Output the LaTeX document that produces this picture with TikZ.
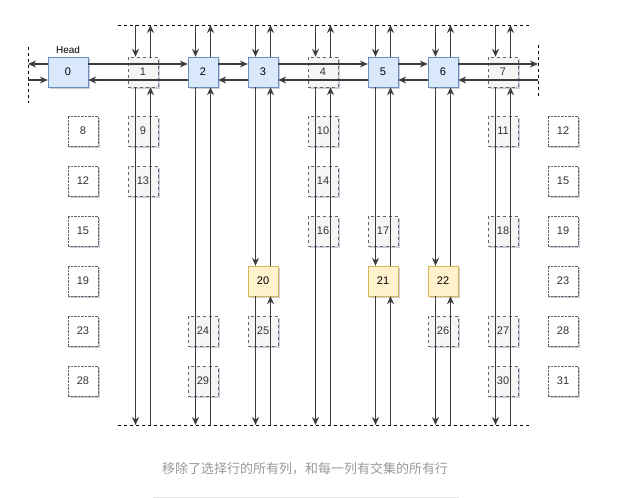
\documentclass[tikz,border=0pt]{standalone}
\usepackage{fontspec}
\setmainfont{Liberation Sans}
\newfontfamily\cjk{Noto Sans CJK SC}
\usepackage{tikz}
\usetikzlibrary{positioning}
\usetikzlibrary{arrows.meta,shadows}
\pgfdeclarelayer{nodelayer}
\pgfdeclarelayer{edgelayer}
\pgfsetlayers{nodelayer,edgelayer,main}
\definecolor{headfill}{HTML}{DAE8FC}
\definecolor{headline}{HTML}{6C8EBF}
\definecolor{pickfill}{HTML}{FFF2CC}
\definecolor{pickline}{HTML}{D6B656}
\definecolor{gonefill}{HTML}{F5F5F5}
\definecolor{goneline}{HTML}{666666}
\definecolor{gonetext}{HTML}{333333}
\definecolor{linkgray}{HTML}{3C3C3C}
\definecolor{captiongray}{HTML}{999999}
\tikzset{
  cell/.style={draw, minimum width=30pt, minimum height=30pt, inner sep=0pt,
    font=\fontsize{11}{13}\selectfont,
    drop shadow={shadow xshift=2pt, shadow yshift=-2pt, opacity=0.2, fill=black!70!blue}},
  live/.style={cell, fill=headfill, draw=headline},
  picked/.style={cell, fill=pickfill, draw=pickline},
  gone/.style={cell, dashed, fill=gonefill, draw=goneline, text=gonetext},
  rowlabel/.style={cell, densely dotted, fill=white, draw=goneline, text=gonetext},
  link/.style={draw=linkgray, line width=1.1pt, -{Stealth[length=8pt,width=7pt]}},
  border/.style={draw=black, line width=0.8pt, dash pattern=on 3pt off 3pt},
}

\begin{document}
\begin{tikzpicture}[x=1pt, y=-1pt]
  \useasboundingbox (0,0) rectangle (635,498);
  \begin{pgfonlayer}{nodelayer}
    \node [live, minimum width=40pt] (0) at (68, 72) {0};
    \node [font=\fontsize{10}{12}\selectfont, above=0pt of 0] (headlabel) {Head};
    \foreach \n/\x in {1/143, 4/323, 7/503}
      \node [gone] (\n) at (\x, 72) {\n};
    \foreach \n/\x in {2/203, 3/263, 5/383, 6/443}
      \node [live] (\n) at (\x, 72) {\n};
    % removed rows
    \foreach \n/\x/\y in {9/143/131, 13/143/181, 24/203/331, 29/203/381,
        25/263/331, 10/323/131, 14/323/181, 16/323/231, 17/383/231,
        26/443/331, 11/503/131, 18/503/231, 27/503/331, 30/503/381}
      \node [gone] (\n) at (\x, \y) {\n};
    % selected row
    \foreach \n/\x in {20/263, 21/383, 22/443}
      \node [picked] (\n) at (\x, 281) {\n};
    \foreach \n/\y in {8/131, 12/181, 15/231, 19/281, 23/331, 28/381}
      \node [rowlabel] (L\n) at (83, \y) {\n};
    \foreach \n/\y in {12/131, 15/181, 19/231, 23/281, 28/331, 31/381}
      \node [rowlabel] (R\n) at (563, \y) {\n};
    \node [text=captiongray, font=\cjk\fontsize{13}{15}\selectfont] (caption) at (305, 469)
      {移除了选择行的所有列，和每一列有交集的所有行};
  \end{pgfonlayer}
  \begin{pgfonlayer}{edgelayer}
    \coordinate (lb) at (28, 72);
    \coordinate (rb) at (538, 72);
    \coordinate (tl) at (118, 25);
    \coordinate (tr) at (530, 25);
    \coordinate (bl) at (118, 425);
    \coordinate (br) at (530, 425);
    \draw [border] (tl) -- (tr);
    \draw [border] (bl) -- (br);
    \draw [border] (28, 47) -- (28, 103);
    \draw [border] (538, 45) -- (538, 97);
    \draw [gray!20] (153, 497) -- (459, 497);
    % row of headers
    \foreach \a/\b in {0/2, 2/3, 3/5, 5/6} {
      \draw [link] ([yshift=8pt]\a.east) -- ([yshift=8pt]\b.west);
      \draw [link] ([yshift=-8pt]\b.west) -- ([yshift=-8pt]\a.east);
    }
    \draw [link] ([yshift=8pt]6.east) -- ([yshift=8pt]rb);
    \draw [link] ([yshift=-8pt]rb) -- ([yshift=-8pt]6.east);
    \draw [link] ([yshift=8pt]0.west) -- ([yshift=8pt]lb);
    \draw [link] ([yshift=-8pt]lb) -- ([yshift=-8pt]0.west);
    % columns
    \foreach \c [evaluate=\c as \x using 83+60*\c] in {1,...,7} {
      \coordinate (t\c) at (\x, 25);
      \coordinate (b\c) at (\x, 425);
      \draw [link] ([xshift=-7.5pt]t\c) -- ([xshift=-7.5pt]\c.north);
      \draw [link] ([xshift=7.5pt]\c.north) -- ([xshift=7.5pt]t\c);
    }
    \foreach \a/\b in {1.south/b1, 2.south/b2, 3.south/20.north, 20.south/b3,
        4.south/b4, 5.south/21.north, 21.south/b5, 6.south/22.north,
        22.south/b6, 7.south/b7} {
      \draw [link] ([xshift=-7.5pt]\a) -- ([xshift=-7.5pt]\b);
      \draw [link] ([xshift=7.5pt]\b) -- ([xshift=7.5pt]\a);
    }
  \end{pgfonlayer}
\end{tikzpicture}
\end{document}
